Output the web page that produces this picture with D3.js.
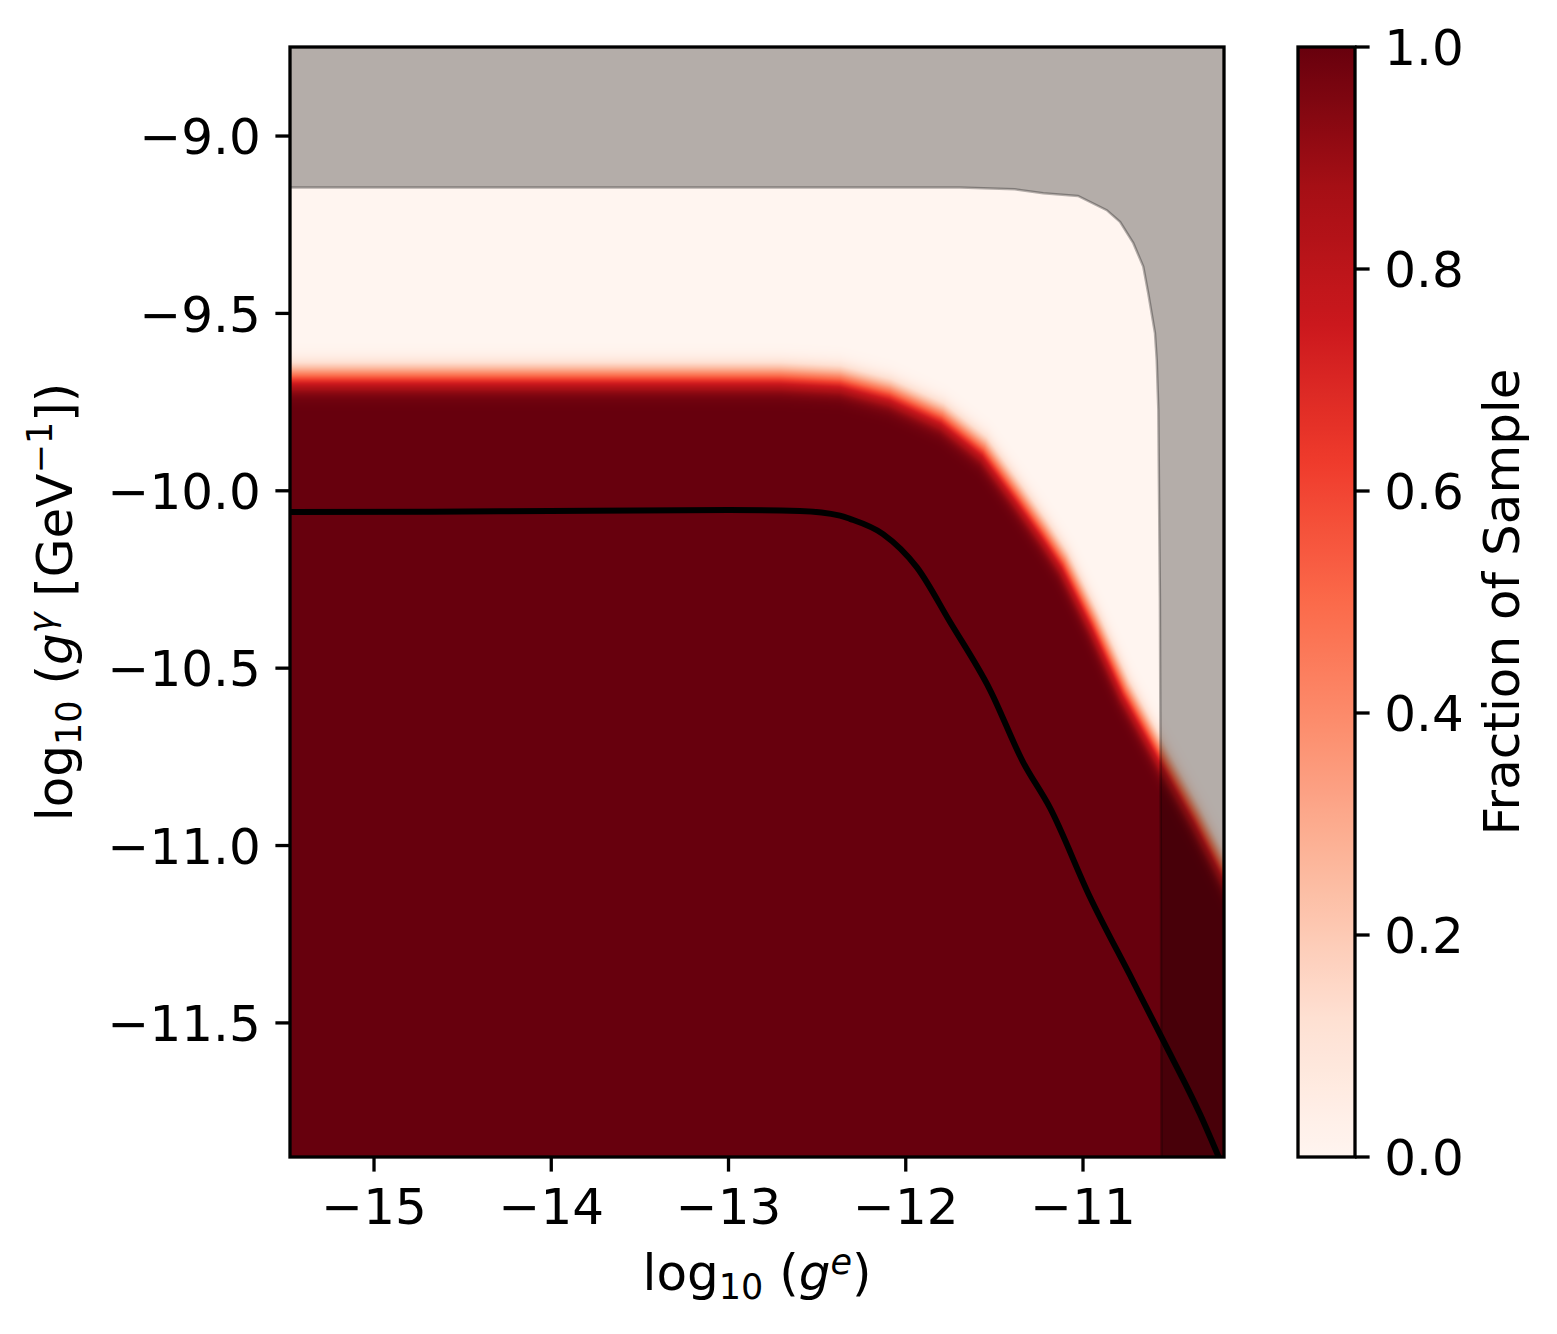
<!DOCTYPE html>
<html><head><meta charset="utf-8">
<script src="https://cdn.jsdelivr.net/npm/d3@7"></script>
<style>
body{margin:0;background:#fff}
svg{display:block}
text{font-family:"DejaVu Sans",sans-serif;fill:#000}
</style>
</head><body>
<svg id="chart" width="1557" height="1334"></svg>
<script>
// ---------- data ----------
const xTicks = [-15, -14, -13, -12, -11];
const yTicks = [-9.0, -9.5, -10.0, -10.5, -11.0, -11.5];
const cbTicks = [0.0, 0.2, 0.4, 0.6, 0.8, 1.0];
const xDomain = [-15.474, -10.2045];
const yDomain = [-11.878, -8.749];

// 0.5-level edge of the "fraction of sample" field (log10 g_e, log10 g_gamma)
const edgeX = [-15.60, -12.709, -12.371, -12.089, -11.795, -11.559, -11.372, -11.220, -11.107, -10.938, -10.763, -10.599, -10.362, -10.187, -10.086, -9.95];
const edgeY = [-9.676, -9.676, -9.685, -9.722, -9.789, -9.882, -10.009, -10.116, -10.201, -10.370, -10.561, -10.708, -10.919, -11.088, -11.187, -11.33];
const edgeSigma = 0.0334; // smoothing width in log units

// excluded region (grey) boundary, from bottom upwards then left
const exclX = [-10.557, -10.560, -10.566, -10.575, -10.584, -10.594, -10.632, -10.660, -10.716, -10.791, -10.866, -11.028, -11.224, -11.384, -11.694, -15.474];
const exclY = [-11.878, -11.153, -10.308, -9.772, -9.631, -9.555, -9.443, -9.368, -9.302, -9.242, -9.209, -9.169, -9.161, -9.150, -9.145, -9.145];

// black curve
const lineX = [-15.474, -14.289, -12.997, -12.597, -12.371, -12.315, -12.128, -11.937, -11.750, -11.525, -11.339, -11.186, -10.961, -10.718, -10.549, -10.340, -10.220];
const lineY = [-10.060, -10.058, -10.054, -10.057, -10.070, -10.079, -10.122, -10.216, -10.370, -10.561, -10.764, -10.894, -11.145, -11.382, -11.548, -11.757, -11.895];

const redsStops = ["#fff5f0","#fee0d2","#fcbba1","#fc9272","#fb6a4a","#ef3b2c","#cb181d","#a50f15","#67000d"];

// ---------- layout ----------
const W = 1557, H = 1334;
const px0 = 290, px1 = 1224, py0 = 47, py1 = 1157;
const FS = 50;
const tickLen = 14.6, tickW = 3.3, spineW = 3.3;

const svg = d3.select("#chart");
svg.append("rect").attr("width", W).attr("height", H).attr("fill", "#fff");

const x = d3.scaleLinear().domain(xDomain).range([px0, px1]);
const y = d3.scaleLinear().domain(yDomain).range([py1, py0]);
const cmap = d3.scaleLinear().domain(redsStops.map((d, i) => i / (redsStops.length - 1))).range(redsStops).interpolate(d3.interpolateRgb).clamp(true);

// ---------- heat map ----------
function erf(v) {
  const t = 1 / (1 + 0.3275911 * Math.abs(v));
  const r = 1 - (((((1.061405429 * t - 1.453152027) * t) + 1.421413741) * t - 0.284496736) * t + 0.254829592) * t * Math.exp(-v * v);
  return v >= 0 ? r : -r;
}
const edgeInterp = d3.scaleLinear().domain(edgeX).range(edgeY);
const segs = [];
for (let i = 0; i < edgeX.length - 1; i++) segs.push([edgeX[i], edgeY[i], edgeX[i + 1], edgeY[i + 1]]);
function fraction(gx, gy) {
  let best = Infinity;
  for (const [ax, ay, bx, by] of segs) {
    const dx = bx - ax, dy = by - ay;
    let t = ((gx - ax) * dx + (gy - ay) * dy) / (dx * dx + dy * dy);
    t = Math.max(0, Math.min(1, t));
    const ex = ax + t * dx - gx, ey = ay + t * dy - gy;
    const d2 = ex * ex + ey * ey;
    if (d2 < best) best = d2;
  }
  let d = Math.sqrt(best);
  if (gy > edgeInterp(gx)) d = -d;
  return 0.5 * (1 + erf(d / edgeSigma / Math.SQRT2));
}
const cw = Math.round(px1 - px0), ch = Math.round(py1 - py0);
const canvas = document.createElement("canvas");
canvas.width = cw; canvas.height = ch;
const ctx = canvas.getContext("2d");
const img = ctx.createImageData(cw, ch);
const lut = d3.range(1024).map(i => d3.rgb(cmap(i / 1023)));
for (let j = 0; j < ch; j++) {
  const gy = y.invert(py0 + j + 0.5);
  for (let i = 0; i < cw; i++) {
    const gx = x.invert(px0 + i + 0.5);
    const f = fraction(gx, gy);
    const c = lut[Math.round(f * 1023)];
    const k = (j * cw + i) * 4;
    img.data[k] = c.r; img.data[k + 1] = c.g; img.data[k + 2] = c.b; img.data[k + 3] = 255;
  }
}
ctx.putImageData(img, 0, 0);

const defs = svg.append("defs");
defs.append("clipPath").attr("id", "plotclip").append("rect")
  .attr("x", px0).attr("y", py0).attr("width", px1 - px0).attr("height", py1 - py0);

const plot = svg.append("g").attr("clip-path", "url(#plotclip)");
plot.append("image").attr("x", px0).attr("y", py0).attr("width", cw).attr("height", ch)
  .attr("preserveAspectRatio", "none").attr("href", canvas.toDataURL());

// grey excluded region
const exclPts = exclX.map((v, i) => [v, exclY[i]]);
const poly = exclPts.concat([[xDomain[0], yDomain[1]], [xDomain[1], yDomain[1]], [xDomain[1], yDomain[0]]]);
plot.append("path")
  .attr("d", d3.line().x(d => x(d[0])).y(d => y(d[1]))(poly) + "Z")
  .attr("fill", "#000").attr("fill-opacity", 0.295).attr("stroke", "none");
plot.append("path")
  .attr("d", d3.line().x(d => x(d[0])).y(d => y(d[1]))(exclPts))
  .attr("fill", "none").attr("stroke", "#000").attr("stroke-opacity", 0.29).attr("stroke-width", 2.5);

// black curve
const linePts = lineX.map((v, i) => [v, lineY[i]]);
plot.append("path")
  .attr("d", d3.line().x(d => x(d[0])).y(d => y(d[1])).curve(d3.curveMonotoneX)(linePts))
  .attr("fill", "none").attr("stroke", "#000").attr("stroke-width", 6).attr("stroke-linejoin", "round");

// ---------- axes ----------
const fmtY = d => d3.format(".1f")(d).replace("-", "\u2212");
const fmtX = d => d3.format("d")(d).replace("-", "\u2212");

const xAxis = svg.append("g");
xTicks.forEach(t => {
  xAxis.append("line").attr("x1", x(t)).attr("x2", x(t)).attr("y1", py1).attr("y2", py1 + tickLen)
    .attr("stroke", "#000").attr("stroke-width", tickW);
  xAxis.append("text").attr("x", x(t)).attr("y", py1 + tickLen + 14.6 + 0.765 * FS)
    .attr("text-anchor", "middle").attr("font-size", FS).text(fmtX(t));
});
const yAxis = svg.append("g");
yTicks.forEach(t => {
  yAxis.append("line").attr("x1", px0 - tickLen).attr("x2", px0).attr("y1", y(t)).attr("y2", y(t))
    .attr("stroke", "#000").attr("stroke-width", tickW);
  yAxis.append("text").attr("x", px0 - tickLen - 14.6).attr("y", y(t) + 0.364 * FS)
    .attr("text-anchor", "end").attr("font-size", FS).text(fmtY(t));
});
svg.append("rect").attr("x", px0).attr("y", py0).attr("width", px1 - px0).attr("height", py1 - py0)
  .attr("fill", "none").attr("stroke", "#000").attr("stroke-width", spineW);

// x label
const xl = svg.append("text").attr("x", (px0 + px1) / 2).attr("y", 1290).attr("text-anchor", "middle").attr("font-size", FS);
xl.append("tspan").text("log");
xl.append("tspan").attr("font-size", 35).attr("dy", 9).text("10");
xl.append("tspan").attr("dy", -9).text(" (");
xl.append("tspan").attr("font-style", "italic").text("g");
xl.append("tspan").attr("font-size", 35).attr("font-style", "italic").attr("dy", -16).text("e");
xl.append("tspan").attr("dy", 16).text(")");

// y label
const yl = svg.append("text").attr("transform", `translate(72,${(py0 + py1) / 2}) rotate(-90)`)
  .attr("text-anchor", "middle").attr("font-size", FS);
yl.append("tspan").text("log");
yl.append("tspan").attr("font-size", 35).attr("dy", 9).text("10");
yl.append("tspan").attr("dy", -9).text(" (");
yl.append("tspan").attr("font-style", "italic").text("g");
yl.append("tspan").attr("font-size", 35).attr("font-style", "italic").attr("dy", -18).text("\u03b3");
yl.append("tspan").attr("dy", 18).text(" [GeV");
yl.append("tspan").attr("font-size", 35).attr("dy", -20).text("\u22121");
yl.append("tspan").attr("dy", 20).text("])");

// ---------- colorbar ----------
const cbx0 = 1298, cbx1 = 1355;
const cb = d3.scaleLinear().domain([0, 1]).range([py1, py0]);
const grad = defs.append("linearGradient").attr("id", "cbgrad").attr("x1", 0).attr("y1", 1).attr("x2", 0).attr("y2", 0);
d3.range(0, 1.0001, 1 / 64).forEach(v => grad.append("stop").attr("offset", v).attr("stop-color", cmap(v)));
svg.append("rect").attr("x", cbx0).attr("y", cb(1)).attr("width", cbx1 - cbx0).attr("height", cb(0) - cb(1))
  .attr("fill", "url(#cbgrad)");
svg.append("rect").attr("x", cbx0).attr("y", cb(1)).attr("width", cbx1 - cbx0).attr("height", cb(0) - cb(1))
  .attr("fill", "none").attr("stroke", "#000").attr("stroke-width", spineW);
cbTicks.forEach(t => {
  svg.append("line").attr("x1", cbx1).attr("x2", cbx1 + tickLen).attr("y1", cb(t)).attr("y2", cb(t))
    .attr("stroke", "#000").attr("stroke-width", tickW);
  svg.append("text").attr("x", cbx1 + tickLen + 14.6).attr("y", cb(t) + 0.364 * FS)
    .attr("font-size", FS).text(d3.format(".1f")(t));
});
svg.append("text").attr("transform", `translate(1519,${(py0 + py1) / 2}) rotate(-90)`)
  .attr("text-anchor", "middle").attr("font-size", FS).text("Fraction of Sample");
</script>
</body></html>
